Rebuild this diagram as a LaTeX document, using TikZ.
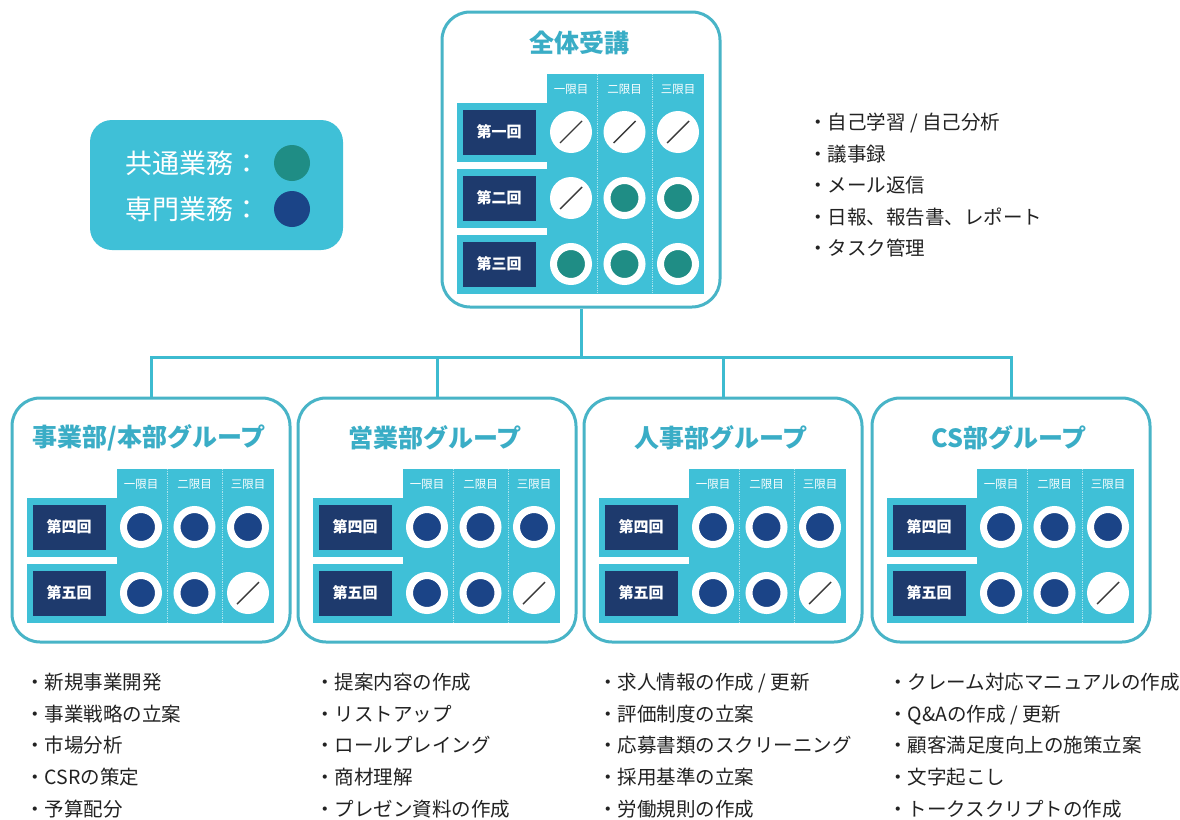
\documentclass[tikz,border=0pt]{standalone}
\usepackage{fontspec}
\setmainfont{Noto Sans CJK JP}

\definecolor{waku}{HTML}{48B4C7}
\definecolor{sen}{HTML}{3DBBD0}
\definecolor{hyo}{HTML}{3FC0D7}
\definecolor{midashi}{HTML}{3AADC6}
\definecolor{kon}{HTML}{1E3A6D}
\definecolor{senmoniro}{HTML}{1B4487}
\definecolor{kyotsuiro}{HTML}{1F8D85}
\definecolor{moji}{HTML}{222222}
\definecolor{slashcol}{HTML}{3A3A3A}

\tikzset{
  nashi/.style={circle, fill=white, minimum size=42, inner sep=0,
    path picture={\draw[slashcol, line width=1.4]
      ([shift={(-11,11)}]path picture bounding box.center) --
      ([shift={(11,-11)}]path picture bounding box.center);}},
  kyotsu/.style={circle, fill=kyotsuiro, draw=white, line width=7, minimum size=35, inner sep=0},
  senmon/.style={circle, fill=senmoniro, draw=white, line width=7, minimum size=35, inner sep=0}
}

% one table of sessions: origin, name prefix, rows, row data
\newcommand{\komahyo}[4]{%
  \begin{scope}[shift={#1}]
    \fill[hyo] (90,0) rectangle (247,{66*#3+21.5});
    \foreach \x in {140,195}
      \draw[white!55!hyo, densely dotted, line width=0.8] (\x,0) -- (\x,{66*#3+21.5});
    \foreach \t [count=\i] in {一,二,三}
      \node[hdr] (#2h\i) at ({60.5+53.5*\i},15.5) {\t 限目};
    \foreach \lbl/\a/\b/\c [count=\r] in {#4} {
      \fill[hyo] (0,{66*\r-37.5}) rectangle (90,{66*\r+21.5});
      \node[rowlabel] (#2r\r) at (42,{66*\r-8}) {\lbl};
      \node[\a] (#2c\r-1) at (114,{66*\r-8}) {};
      \node[\b] (#2c\r-2) at (167.5,{66*\r-8}) {};
      \node[\c] (#2c\r-3) at (221,{66*\r-8}) {};
    }
  \end{scope}}

\begin{document}
\begin{tikzpicture}[x=1pt, y=-1pt,
    grpbox/.style={draw=waku, line width=3, rounded corners=28, minimum width=278, minimum height=244},
    grptitle/.style={text=midashi, font=\fontsize{25}{25}\selectfont\bfseries},
    rowlabel/.style={fill=kon, text=white, minimum width=73, minimum height=45, inner sep=0,
      font=\fontsize{15}{15}\selectfont\bfseries},
    hdr/.style={text=white, inner sep=0, font=\fontsize{11.5}{11.5}\selectfont},
    item/.style={anchor=west, inner sep=0, text=moji, text height=17.2pt, text depth=2.3pt,
      font=\fontsize{19.5}{19.5}\selectfont},
    legtext/.style={anchor=west, inner sep=0, text=white, font=\fontsize{27}{27}\selectfont},
    conn/.style={draw=sen, line width=3}]
  \fill[white] (0,0) rectangle (1180,819);
  \useasboundingbox (0,0) rectangle (1180,819);

  % legend
  \node[fill=hyo, rounded corners=22, minimum width=253, minimum height=130] (hanrei) at (216.5,185) {};
  \node[legtext] (kyotsutxt) at (125,163) {共通業務：};
  \node[circle, fill=kyotsuiro, minimum size=36, inner sep=0] (kyotsumaru) at (292,163) {};
  \node[legtext] (senmontxt) at (125,209) {専門業務：};
  \node[circle, fill=senmoniro, minimum size=36, inner sep=0] (senmonmaru) at (292,209) {};

  % whole course
  \node[grpbox, minimum height=295] (zentai) at (581,159.5) {};
  \node[grptitle] (zentaititle) at (579,43) {全体受講};
  \komahyo{(457,74)}{z}{3}{第一回/nashi/nashi/nashi, 第二回/nashi/kyotsu/kyotsu, 第三回/kyotsu/kyotsu/kyotsu}

  \foreach \t [count=\i] in {自己学習 / 自己分析, 議事録, メール返信, 日報、報告書、レポート, タスク管理}
    \node[item] (z\i) at (808,{122+31.6*(\i-1)}) {・\t};

  % groups
  \node[grpbox] (jigyo) at (151,520) {};
  \node[grpbox] (eigyo) at (437,520) {};
  \node[grpbox] (jinji) at (723,520) {};
  \node[grpbox] (cs) at (1011,520) {};

  \coordinate (bus) at (581,357);
  \draw[conn] (zentai.south) -- (bus);
  \draw[conn] (jigyo.north) |- (bus) -| (cs.north);
  \draw[conn] (eigyo.north) -- (eigyo.north |- bus);
  \draw[conn] (jinji.north) -- (jinji.north |- bus);

  \node[grptitle] (jigyotitle) at (149,438) {事業部/本部グループ};
  \node[grptitle] (eigyotitle) at (435,438) {営業部グループ};
  \node[grptitle] (jinjititle) at (721,438) {人事部グループ};
  \node[grptitle] (cstitle) at (1009,438) {CS部グループ};

  \komahyo{(27,469)}{a}{2}{第四回/senmon/senmon/senmon, 第五回/senmon/senmon/nashi}
  \komahyo{(313,469)}{b}{2}{第四回/senmon/senmon/senmon, 第五回/senmon/senmon/nashi}
  \komahyo{(599,469)}{c}{2}{第四回/senmon/senmon/senmon, 第五回/senmon/senmon/nashi}
  \komahyo{(887,469)}{d}{2}{第四回/senmon/senmon/senmon, 第五回/senmon/senmon/nashi}

  \foreach \t [count=\i] in {新規事業開発, 事業戦略の立案, 市場分析, CSRの策定, 予算配分}
    \node[item] (a\i) at (25,{682+31.7*(\i-1)}) {・\t};
  \foreach \t [count=\i] in {提案内容の作成, リストアップ, ロールプレイング, 商材理解, プレゼン資料の作成}
    \node[item] (b\i) at (315,{682+31.7*(\i-1)}) {・\t};
  \foreach \t [count=\i] in {求人情報の作成 / 更新, 評価制度の立案, 応募書類のスクリーニング, 採用基準の立案, 労働規則の作成}
    \node[item] (c\i) at (598,{682+31.7*(\i-1)}) {・\t};
  \foreach \t [count=\i] in {クレーム対応マニュアルの作成, Q\&Aの作成 / 更新, 顧客満足度向上の施策立案, 文字起こし, トークスクリプトの作成}
    \node[item] (d\i) at (888,{682+31.7*(\i-1)}) {・\t};
\end{tikzpicture}
\end{document}
